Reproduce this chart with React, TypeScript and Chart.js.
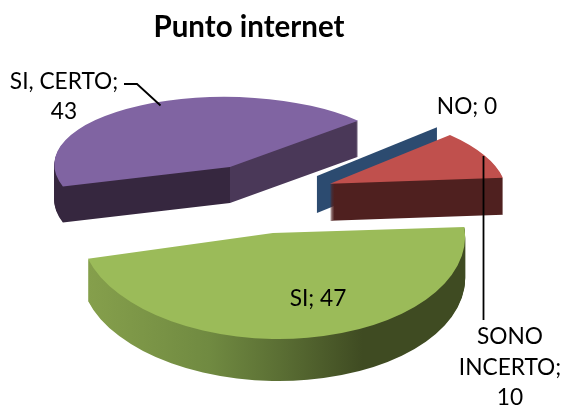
import React, { useEffect, useRef } from "react";
import { Chart, registerables } from "chart.js";

Chart.register(...registerables);

// ---- data ----
const categories = ["SI", "SI, CERTO", "NO", "SONO INCERTO"];
const values = [47, 43, 0, 10];
const titleText = "Punto internet";

// ---- style ----
const FONT = "Lato, Carlito, 'Open Sans', sans-serif";
const topColors = ["#9bbb59", "#8064a2", "#375f8c", "#c0504d"];
const drawOrder = [1, 2, 3, 0];
const explode = [92.6, 72.3, 71, 73.4];
const tilt = 0.42;
const pieCenter = { x: 261, y: 194.4 };
const depth = [42, 36, 37, 37];
// per-slice projection [a, b, c, d] of the unit circle (3D perspective imitation)
const projection = [
  [192, 10, -2.3, 106],
  [175, 16, -4, 70],
  [174, 27.8, -3.4, 75],
  [174, 27.8, -3.4, 75],
];
const wallStops: [number, string][][] = [
  [[0, "#86a04c"], [0.31, "#708a41"], [0.49, "#5b6f34"], [0.71, "#3f4b22"], [1, "#3f4b22"]],
  [[0, "#36273f"], [0.5, "#36273f"], [0.5, "#4a3858"], [1, "#4a3858"]],
  [[0, "#2c4b70"], [1, "#2c4b70"]],
  [[0, "#4f201f"], [1, "#4f201f"]],
];
const labelLayout = [
  { x: 318, y: 299, maxWidth: 100, lineHeight: 30 },
  { x: 64, y: 82, maxWidth: 125, lineHeight: 30 },
  { x: 467, y: 107, maxWidth: 100, lineHeight: 30 },
  { x: 510, y: 337, maxWidth: 110, lineHeight: 30.5 },
];
const leaders: [number, number][][] = [
  [[124, 84], [137, 84], [160.5, 105.5]],
  [[483.5, 156], [483.5, 320]],
];

function wrap(ctx: CanvasRenderingContext2D, text: string, maxWidth: number) {
  const lines: string[] = [];
  let cur = "";
  for (const w of text.split(" ")) {
    const t = cur ? cur + " " + w : w;
    if (ctx.measureText(t).width > maxWidth && cur) {
      lines.push(cur);
      cur = w;
    } else cur = t;
  }
  if (cur) lines.push(cur);
  return lines;
}

const pie3d = {
  id: "pie3d",
  beforeDatasetDraw(chart: any) {
    const ctx: CanvasRenderingContext2D = chart.ctx;
    const arcs = chart.getDatasetMeta(0).data;
    const place = (i: number, k: number) => {
      const arc = arcs[i];
      const mid = (arc.startAngle + arc.endAngle) / 2;
      const tx = pieCenter.x + explode[i] * Math.cos(mid);
      const ty = pieCenter.y + explode[i] * Math.sin(mid) * tilt + k;
      return { tx, ty, arc, mid };
    };
    const paint = (i: number, k: number, fill?: CanvasGradient) => {
      const { tx, ty, arc } = place(i, k);
      const R = arc.outerRadius;
      const [a, b, c, d] = projection[i];
      ctx.save();
      ctx.translate(tx, ty);
      ctx.transform(a / R, c / R, b / R, d / R, 0, 0);
      ctx.translate(-arc.x, -arc.y);
      const prev = arc.options;
      if (fill) arc.options = { ...prev, backgroundColor: fill, borderWidth: 0 };
      arc.draw(ctx);
      arc.options = prev;
      ctx.restore();
    };
    const wallGradient = (i: number) => {
      const arc = arcs[i];
      const R = arc.outerRadius;
      const g = ctx.createLinearGradient(arc.x - R, 0, arc.x + R, 0);
      wallStops[i].forEach(([o, col]) => g.addColorStop(o, col));
      return g;
    };
    for (const i of drawOrder) {
      if (values[i] === 0) {
        // a zero-valued slice has no area: only its cut face shows
        const { tx, ty, arc } = place(i, 0);
        const [a, b, c, d] = projection[i];
        const cs = Math.cos(arc.startAngle);
        const sn = Math.sin(arc.startAngle);
        const ex = tx + a * cs + b * sn;
        const ey = ty + c * cs + d * sn;
        ctx.fillStyle = wallStops[i][0][1];
        ctx.beginPath();
        ctx.moveTo(tx, ty);
        ctx.lineTo(ex, ey);
        ctx.lineTo(ex, ey + depth[i]);
        ctx.lineTo(tx, ty + depth[i]);
        ctx.closePath();
        ctx.fill();
        continue;
      }
      const g = wallGradient(i);
      for (let k = depth[i]; k >= 1; k--) paint(i, k, g);
      paint(i, 0);
    }
    return false;
  },
  afterDraw(chart: any) {
    const ctx: CanvasRenderingContext2D = chart.ctx;
    ctx.save();
    ctx.strokeStyle = "#000";
    ctx.lineWidth = 1.8;
    for (const pts of leaders) {
      ctx.beginPath();
      pts.forEach(([x, y], j) => (j ? ctx.lineTo(x, y) : ctx.moveTo(x, y)));
      ctx.stroke();
    }
    ctx.fillStyle = "#000";
    ctx.font = `22.7px ${FONT}`;
    ctx.textAlign = "center";
    ctx.textBaseline = "middle";
    categories.forEach((name, i) => {
      const l = labelLayout[i];
      wrap(ctx, `${name}; ${values[i]}`, l.maxWidth).forEach((line, j) => {
        ctx.fillText(line, l.x, l.y + j * l.lineHeight);
      });
    });
    ctx.restore();
  },
};

export default function App() {
  const ref = useRef<HTMLCanvasElement>(null);
  useEffect(() => {
    const chart = new Chart(ref.current!, {
      type: "pie",
      data: {
        labels: categories,
        datasets: [{ data: values, backgroundColor: topColors, borderWidth: 0 }],
      },
      options: {
        responsive: false,
        animation: false,
        events: [],
        rotation: 88,
        layout: { padding: { left: 0, right: 67, top: 0, bottom: 0 } },
        plugins: {
          legend: { display: false },
          tooltip: { enabled: false },
          title: {
            display: true,
            text: titleText,
            fullSize: false,
            color: "#000",
            font: { family: FONT, size: 29.5, weight: "bold" },
            padding: { top: 10, bottom: 6 },
          },
        },
      },
      plugins: [pie3d],
    } as any);
    return () => chart.destroy();
  }, []);
  return (
    <div style={{ position: "absolute", left: 0, top: 0, width: 565, height: 414 }}>
      <canvas ref={ref} width={565} height={414} style={{ display: "block" }} />
    </div>
  );
}
